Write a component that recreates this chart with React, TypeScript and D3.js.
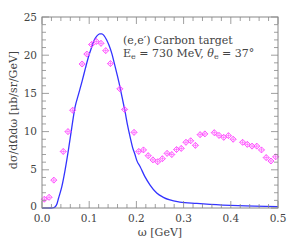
import React from "react";
import * as d3 from "d3";

const dataOmega = [0.005,0.015,0.025,0.045,0.055,0.065,0.085,0.095,0.105,0.115,0.125,0.135,0.145,0.165,0.175,0.195,0.205,0.215,0.225,0.235,0.245,0.255,0.265,0.275,0.285,0.295,0.305,0.315,0.325,0.335,0.345,0.365,0.375,0.385,0.395,0.405,0.425,0.435,0.445,0.455,0.465,0.475,0.485,0.495];
const dataValues = [1.15,1.4,3.65,7.4,10.0,12.8,18.85,20.15,21.4,21.8,21.55,20.6,18.9,15.6,12.9,9.9,7.4,7.6,6.85,6.3,6.05,6.45,7.15,7.0,7.65,7.8,8.6,8.8,8.2,9.6,9.7,9.86,9.5,9.25,9.47,9.0,8.6,8.33,8.1,8.1,7.6,6.6,6.15,6.7];

const curveOmega = [0,0.02,0.025,0.028,0.032,0.035,0.042,0.049,0.056,0.063,0.070,0.077,0.085,0.092,0.099,0.105,0.110,0.116,0.122,0.127,0.131,0.137,0.142,0.148,0.153,0.159,0.165,0.170,0.176,0.181,0.187,0.192,0.197,0.201,0.208,0.218,0.229,0.243,0.257,0.271,0.292,0.328,0.356,0.416,0.5];
const curveValues = [0,0,0.05,0.17,0.6,1.27,2.8,5.0,7.6,10.5,13.2,14.8,16.6,18.3,19.9,21.0,21.9,22.5,22.8,22.8,22.6,22.0,21.3,20.2,19.0,17.5,15.9,14.4,12.6,10.9,9.2,7.9,7.0,6.2,5.4,4.1,3.0,1.95,1.4,1.05,0.78,0.6,0.48,0.3,0.17];

const xTicks = [0, 0.1, 0.2, 0.3, 0.4, 0.5];
const yTicks = [0, 5, 10, 15, 20, 25];

const W = 293, H = 251;
const L = 42, R = 278, T = 17, B = 208;
const FONT = "DejaVu Serif";
const AXIS = "#888";
const TEXT = "#444";

export default function App() {
  const x = d3.scaleLinear().domain([0, 0.5]).range([L, R]);
  const y = d3.scaleLinear().domain([0, 25]).range([B, T]);
  const line = d3.line<number>().x((_, i) => x(curveOmega[i])).y((d) => y(d)).curve(d3.curveMonotoneX);
  const xMinor = d3.range(0, 0.5001, 0.02);
  const yMinor = d3.range(0, 25.001, 1);
  const s = 3;
  return (
    <svg width={W} height={H} style={{ position: "absolute", left: 0, top: 0 }} fontFamily={FONT}>
      <rect x={0} y={0} width={W} height={H} fill="white" />
      <path d={line(curveValues) || ""} fill="none" stroke="#3333ff" strokeWidth={1.3} />
      {dataOmega.map((o, i) => {
        const cx = x(o), cy = y(dataValues[i]);
        return (
          <g key={i} stroke="#ff44ff" strokeWidth={0.9} fill="none">
            <path d={`M${cx},${cy - s}L${cx + s},${cy}L${cx},${cy + s}L${cx - s},${cy}Z`} />
            <path d={`M${cx - s},${cy}H${cx + s}M${cx},${cy - s}V${cy + s}`} strokeWidth={0.6} />
          </g>
        );
      })}
      <rect x={L} y={T} width={R - L} height={B - T} fill="none" stroke={AXIS} strokeWidth={1} />
      {xMinor.map((v, i) => {
        const major = i % 5 === 0;
        const len = major ? 7 : 4;
        return (
          <g key={"xm" + i} stroke={AXIS} strokeWidth={0.8}>
            <line x1={x(v)} x2={x(v)} y1={B} y2={B - len} />
            <line x1={x(v)} x2={x(v)} y1={T} y2={T + len} />
          </g>
        );
      })}
      {yMinor.map((v, i) => {
        const major = i % 5 === 0;
        const len = major ? 7 : 4;
        return (
          <g key={"ym" + i} stroke={AXIS} strokeWidth={0.8}>
            <line x1={L} x2={L + len} y1={y(v)} y2={y(v)} />
            <line x1={R} x2={R - len} y1={y(v)} y2={y(v)} />
          </g>
        );
      })}
      {xTicks.map((v) => (
        <text key={"xt" + v} x={x(v)} y={222} textAnchor="middle" fontSize={10.5} fill={TEXT}>
          {v.toFixed(1)}
        </text>
      ))}
      {yTicks.map((v) => (
        <text key={"yt" + v} x={37} y={y(v) + (v === 0 ? 2 : 3.5)} textAnchor="end" fontSize={10.5} fill={TEXT}>
          {v}
        </text>
      ))}
      <text x={160} y={236} textAnchor="middle" fontSize={11} fill={TEXT}>ω [GeV]</text>
      <text transform={`translate(17,110) rotate(-90)`} textAnchor="middle" fontSize={11} fill={TEXT}>
        dσ/dΩdω [μb/sr/GeV]
      </text>
      <text x={123} y={44} fontSize={11} fill={TEXT}>(e,e′) Carbon target</text>
      <text x={123} y={57} fontSize={11} fill={TEXT}>
        E<tspan fontSize={8} dy={2}>e</tspan>
        <tspan dy={-2}> = 730 MeV, </tspan>
        <tspan fontStyle="italic">θ</tspan>
        <tspan fontSize={8} dy={2}>e</tspan>
        <tspan dy={-2}> = 37°</tspan>
      </text>
    </svg>
  );
}
